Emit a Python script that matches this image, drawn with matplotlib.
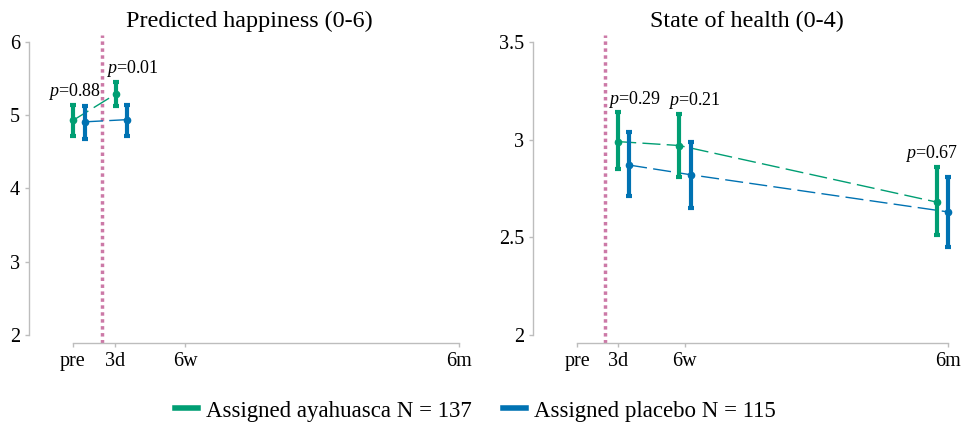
import numpy as np
import matplotlib.pyplot as plt

plt.rcParams['font.family'] = ['Liberation Serif', 'DejaVu Serif']
plt.rcParams['mathtext.fontset'] = 'custom'
plt.rcParams['mathtext.it'] = 'Liberation Serif:italic'
plt.rcParams['mathtext.rm'] = 'Liberation Serif'

GREEN = '#009E73'
BLUE = '#0072B2'
PINK = '#CC79A7'
GREY = '#bdbdbd'

# time axis (pre=0 ... 6m=100)
time_labels = ['pre', '3d', '6w', '6m']
time_pos = [0, 11, 29, 100]
treatment_pos = 7.5

# Predicted happiness (0-6): pre, 3d
happy_x_aya = [0, 11.1]
happy_x_pla = [3.1, 14.0]
happy_aya = [4.93, 5.29]
happy_aya_lo = [4.71, 5.12]
happy_aya_hi = [5.14, 5.46]
happy_pla = [4.91, 4.94]
happy_pla_lo = [4.67, 4.72]
happy_pla_hi = [5.13, 5.14]
happy_p = ['0.88', '0.01']

# State of health (0-4): 3d, 6w, 6m
health_x_aya = [11.05, 27.5, 97.0]
health_x_pla = [14.0, 30.7, 100.0]
health_aya = [2.99, 2.97, 2.68]
health_aya_lo = [2.85, 2.81, 2.51]
health_aya_hi = [3.14, 3.13, 2.86]
health_pla = [2.87, 2.82, 2.63]
health_pla_lo = [2.71, 2.65, 2.45]
health_pla_hi = [3.04, 2.99, 2.81]
health_p = ['0.29', '0.21', '0.67']


def draw_group(ax, x, y, lo, hi, color):
    y = np.array(y)
    err = [y - np.array(lo), np.array(hi) - y]
    ax.plot(x, y, color=color, lw=1, dashes=(13, 4.5), zorder=2)
    ax.errorbar(x, y, yerr=err, fmt='o', color=color, ms=4.5, elinewidth=3,
                capsize=2.5, capthick=3, zorder=3)


def style_axes(ax, yticks, ylim, xlim):
    ax.set_xlim(*xlim)
    ax.set_ylim(*ylim)
    for s in ['top', 'right']:
        ax.spines[s].set_visible(False)
    for s in ['left', 'bottom']:
        ax.spines[s].set_color(GREY)
        ax.spines[s].set_linewidth(1)
    ax.spines['left'].set_bounds(yticks[0], yticks[-1])
    ax.spines['bottom'].set_bounds(time_pos[0], time_pos[-1])
    ax.set_yticks(yticks)
    ax.set_yticklabels([('%g' % t) for t in yticks])
    ax.set_xticks(time_pos)
    ax.set_xticklabels(time_labels)
    ax.tick_params(colors=GREY, labelcolor='black', labelsize=14.5, length=3, width=1)
    ax.axvline(treatment_pos, color=PINK, lw=2.5, ls=(0, (1, 1)), zorder=1)


fig = plt.figure(figsize=(9.66, 4.29), dpi=100)
ax1 = fig.add_axes([0.030, 0.2005, 0.4565, 0.718])
ax2 = fig.add_axes([0.5518, 0.2005, 0.442, 0.718])

# left panel
draw_group(ax1, happy_x_aya, happy_aya, happy_aya_lo, happy_aya_hi, GREEN)
draw_group(ax1, happy_x_pla, happy_pla, happy_pla_lo, happy_pla_hi, BLUE)
style_axes(ax1, [2, 3, 4, 5, 6], (1.891, 6.096), (-11.4, 102.8))
ax1.set_title('Predicted happiness (0-6)', fontsize=17.4, pad=6)
for i, p in enumerate(happy_p):
    xoff = [0.5, 4.3][i]
    ax1.annotate('$p$=' + p, (happy_x_aya[i] + xoff, happy_aya_hi[i]),
                 xytext=(0, 2), textcoords='offset points',
                 ha='center', va='bottom', fontsize=13)

# right panel
draw_group(ax2, health_x_aya, health_aya, health_aya_lo, health_aya_hi, GREEN)
draw_group(ax2, health_x_pla, health_pla, health_pla_lo, health_pla_hi, BLUE)
style_axes(ax2, [2, 2.5, 3, 3.5], (1.959, 3.536), (-11.9, 103.2))
ax2.set_title('State of health (0-4)', fontsize=17.4, pad=6)
for i, p in enumerate(health_p):
    xoff = [4.5, 4.0, -1.5][i]
    ax2.annotate('$p$=' + p, (health_x_aya[i] + xoff, health_aya_hi[i]),
                 xytext=(0, 2), textcoords='offset points',
                 ha='center', va='bottom', fontsize=13)

handles = [plt.Line2D([], [], color=GREEN, lw=4),
           plt.Line2D([], [], color=BLUE, lw=4)]
fig.legend(handles, ['Assigned ayahuasca N = 137', 'Assigned placebo N = 115'],
           loc='center', bbox_to_anchor=(0.492, 0.042), ncol=2, frameon=False,
           fontsize=16.5, handlelength=1.0, handletextpad=0.35, columnspacing=1.35)

fig.savefig('out.png', dpi=100)
